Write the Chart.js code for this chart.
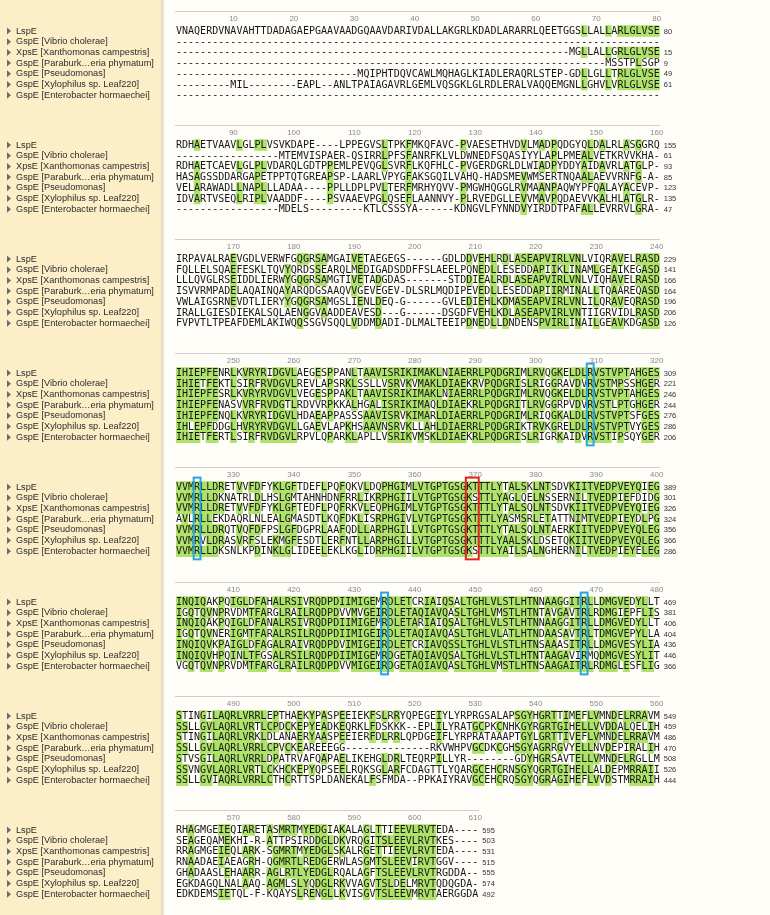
<!DOCTYPE html>
<html>
<head>
<meta charset="utf-8">
<script src="https://cdn.jsdelivr.net/npm/chart.js@4.4.1/dist/chart.umd.min.js"></script>
<style>
  html, body { margin: 0; padding: 0; }
  body {
    width: 770px; height: 915px; position: relative; overflow: hidden;
    background: linear-gradient(to right, #fcefc8 0, #fcefc8 161px, #e2d7b6 161px, #ebe5d5 163px, #fffdf8 165px, #fffdf8 100%);
  }
  canvas { position: absolute; left: 0; }
</style>
</head>
<body>
<script>
// first alignment column of each block
const blockStarts = [1, 81, 161, 241, 321, 401, 481, 561];

const seqNames = [
  'LspE',
  'GspE [Vibrio cholerae]',
  'XpsE [Xanthomonas campestris]',
  'GspE [Paraburk…eria phymatum]',
  'GspE [Pseudomonas]',
  'GspE [Xylophilus sp. Leaf220]',
  'GspE [Enterobacter hormaechei]'
];

const lspE = [
  'VNAQERDVNAVAHTTDADAGAEPGAAVAADGQAAVDARIVDALLAKGRLKDADLARARRLQEETGGSLLALLARLGLVSE',
  'RDHAETVAAVLGLPLVSVKDAPE----LPPEGVSLTPKFMKQFAVC-PVAESETHVDVLMADPQDGYQLDALRLASGGRQ',
  'IRPAVALRAEVGDLVERWFGQGRSAMGAIVETAEGEGS------GDLDDVEHLRDLASEAPVIRLVNLVIQRAVELRASD',
  'IHIEPFENRLKVRYRIDGVLAEGESPPANLTAAVISRIKIMAKLNIAERRLPQDGRIMLRVQGKELDLRVSTVPTAHGES',
  'VVMRLLDRETVVFDFYKLGFTDEFLPQFQKVLDQPHGIMLVTGPTGSGKTTTLYTALSKLNTSDVKIITVEDPVEYQIEG',
  'INQIQAKPQIGLDFAHALRSIVRQDPDIIMIGEMRDLETCRIAIQSALTGHLVLSTLHTNNAAGGITRLLDMGVEDYLLT',
  'STINGILAQRLVRRLEPTHAEKYPASPEEIEKFSLRRYQPEGEIYLYRPRGSALAPSGYHGRTTIMEFLVMNDELRRAVM',
  'RHAGMGEIEQIARETASMRTMYEDGIAKALAGLTTIEEVLRVTEDA----'
];
const vibrio = [
  '--------------------------------------------------------------------------------',
  '-----------------MTEMVISPAER-QSIRRLPFSFANRFKLVLDWNEDFSQASIYYLAPLPMEALVETKRVVKHA-',
  'FQLLELSQAEFESKLTQVYQRDSSEARQLMEDIGADSDDFFSLAEELPQNEDLLESEDDAPIIKLINAMLGEAIKEGASD',
  'IHIETFEKTLSIRFRVDGVLREVLAPSRKLSSLLVSRVKVMAKLDIAEKRVPQDGRISLRIGGRAVDVRVSTMPSSHGER',
  'VVMRLLDKNATRLDLHSLGMTAHNHDNFRRLIKRPHGIILVTGPTGSGKSTTLYAGLQELNSSERNILTVEDPIEFDIDG',
  'IGQTQVNPRVDMTFARGLRAILRQDPDVVMVGEIRDLETAQIAVQASLTGHLVMSTLHTNTAVGAVTRLRDMGIEPFLIS',
  'SSLLGVLAQRLVRTLCPDCKEPYEADKEQRKLFDSKKK--EPLILYRATGCPKCNHKGYRGRTGIHELLVVDDALQELIH',
  'SEAGEQAMEKHI-R-ATTPSIRDDGLDKVRQGITSLEEVLRVTKES----'
];
const xanthomonas = [
  '-----------------------------------------------------------------MGLLALLGRLGLVSE',
  'RDHAETCAEVLGLPLVDARQLGDTPPEMLPEVQGLSVRFLKQFHLC-PVGERDGRLDLWIADPYDDYAIDAVRLATGLP-',
  'LLLQVGLRSEIDDLIERWYGQGRSAMGTIVETADGDAS-------STDDIEALRDLASEAPVIRLVNLVIQHAVELRASD',
  'IHIEPFESRLKVRYRVDGVLVEGESPPAKLTAAVISRIKIMAKLNIAERRLPQDGRIMLRVQGKELDLRVSTVPTAHGES',
  'VVMRLLDRETVVFDFYKLGFTEDFLPQFRKVLEQPHGIMLVTGPTGSGKTTTLYTALSQLNTSDVKIITVEDPVEYQIEG',
  'INQIQAKPQIGLDFANALRSIVRQDPDIIMIGEMRDLETARIAIQSALTGHLVLSTLHTNNAAGGITRLLDMGVEDYLLT',
  'STINGILAQRLVRKLDLANAERYAASPEEIERFDLRRLQPDGEIFLYRPRATAAAPTGYLGRTTIVEFLVMNDELRRAVM',
  'RRAGMGEIEQLARK-SGMRTMYEDGLSKALRGETTIEEVLRVTEDA----'
];
const paraburkholderia = [
  '-----------------------------------------------------------------------MSSTPLSGP',
  'HASAGSSDDARGAPETPPTQTGREAPSP-LAARLVPYGFAKSGQILVAHQ-HADSMEVWMSERTNQAALAEVVRNFG-A-',
  'ISVVRMPADELAQAINQAYARQDGSAAQVVGEVEGEV-DLSRLMQDIPEVEDLLESEDDAPIIRMINALLTQAAREQASD',
  'IHIEPFENASVVRFRVDGTLRDVVRPKKALHGALISRIKIMAQLDIAEKRLPQDGRITLRVGGRPVDVRVSTLPTGHGER',
  'AVLRLLEKDAQRLNLEALGMASDTLKQFDKLISRPHGIVLVTGPTGSGKTTTLYASMSRLETATTNIMTVEDPIEYDLPG',
  'IGQTQVNERIGMTFARALRSILRQDPDIIMIGEIRDLETAQIAVQASLTGHLVLATLHTNDAASAVTRLTDMGVEPYLLA',
  'SSLLGVLAQRLVRRLCPVCKEAREEEGG--------------RKVWHPVGCDKCGHSGYAGRRGVYELLNVDEPIRALIH',
  'RNAADAEIAEAGRH-QGMRTLREDGERWLASGMTSLEEVIRVTGGV----'
];
const pseudomonas = [
  '------------------------------MQIPHTDQVCAWLMQHAGLKIADLERAQRLSTEP-GDLLGLLTRLGLVSE',
  'VELARAWADLLNAPLLLADAA----PPLLDPLPVLTERFMRHYQVV-PMGWHQGGLRVMAANPAQWYPFQALAYACEVP-',
  'VWLAIGSRNEVDTLIERYYGQGRSAMGSLIENLDEQ-G------GVLEDIEHLKDMASEAPVIRLVNLILQRAVEQRASD',
  'IHIEPFENQLKVRYRIDGVLHDAEAPPASSSAAVISRVKIMARLDIAERRLPQDGRIMLRIQGKALDLRVSTVPTSFGES',
  'VVMRLLDRQTVQFDFPSLGFDGPRLAAFQDLLARPHGILLVTGPTGSGKTTTLYTALSQLNTAERKIITVEDPVEYQLEG',
  'INQIQVKPAIGLDFAGALRAIVRQDPDVIMIGEIRDLETCRIAVQSSLTGHLVLSTLHTNSAAASITRLLDMGVESYLIA',
  'STVSGILAQRLVRRLDPATRVAFQAPAELIKEHGLDRLTEQRPILLYR--------GDYHGRSAVTELLVMNDELRGLLM',
  'GHADAASLEHAARR-AGLRTLYEDGLRQALAGFTSLEEVLRVTRGDDA--'
];
const xylophilus = [
  '---------MIL--------EAPL--ANLTPAIAGAVRLGEMLVQSGKLGLRDLERALVAQQEMGNLLGHVLVRLGLVSE',
  'IDVARTVSEQLRIPLVAADDF----PSVAAEVPGLQSEFLAANNVY-PLRVEDGLLEVVMAVPQDAEVVKALHLATGLR-',
  'IRALLGIESDIEKALSQLAENGGVAADDEAVESD---G------DSGDFVEHLKDLASEAPVIRLVNTIIGRVIDLRASD',
  'IHLEPFDDGLHVRYRVDGVLLGAEVLAPKHSAAVNSRVKLLAHLDIAERRLPQDGRIKTRVKGRELDLRVSTVPTVYGES',
  'VVMRVLDRASVRFSLEKMGFESDTLERFNTLLARPHGILLVTGPTGSGKTTTLYAALSKLDSETQKIITVEDPVEYQLEG',
  'INQIQVHPQINLTFGSALRSILRQDPDIIMIGEMRDGETAQIAVQSALTGHLVLSTLHTNTAAGAVIRMQDMGVESYLIT',
  'SSVNGVLAQRLVRTLCKHCKEPYQPSEELRQKSGLARFCDAGTTLYQARGCEHCRNSGYQGRTGIHELLALDEPMRRAII',
  'EGKDAGQLNALAAQ-AGMLSLYQDGLRKVVAGVTSLDELMRVTQDQGDA-'
];
const enterobacter = [
  '--------------------------------------------------------------------------------',
  '-----------------MDELS---------KTLCSSSYA------KDNGVLFYNNDVYIRDDTPAFALLEVRRVLGRA-',
  'FVPVTLTPEAFDEMLAKIWQQSSGVSQQLVDDMDADI-DLMALTEEIPDNEDLLDNDENSPVIRLINAILGEAVKDGASD',
  'IHIETFERTLSIRFRVDGVLRPVLQPARKLAPLLVSRIKVMSKLDIAEKRLPQDGRISLRIGRKAIDVRVSTIPSQYGER',
  'VVMRLLDKSNLKPDINKLGLIDEELEKLKGLIDRPHGIILVTGPTGSGKSTTLYAILSALNGHERNILTVEDPIEYELEG',
  'VGQTQVNPRVDMTFARGLRAILRQDPDVVMIGEIRDGETAQIAVQASLTGHLVMSTLHTNSAAGAITRLRDMGLESFLIG',
  'SSLLGVIAQRLVRRLCTHCRTTSPLDANEKALFSFMDA--PPKAIYRAVGCEHCRQSGYQGRAGIHEFLVVDSTMRRAIH',
  'EDKDEMSIETQL-F-KQAYSLRENGLLKVISGVTSLEEVMRVTAERGGDA'
];

// framed columns (blue) and the Walker B pair (red)
const boxedColumns = [309, 324, 435, 468];
const walkerColumns = [369, 370];

const sequences = [lspE, vibrio, xanthomonas, paraburkholderia, pseudomonas, xylophilus, enterobacter];

const COL_W = 6.048;
const AREA_LEFT = 175.9;
const PITCH = 114.1;
const CANVAS_H = 114;
const GREEN = '#aee26a';

Chart.defaults.font.family = '"Liberation Sans", Arial, sans-serif';

// a residue is shaded when at least 4 of the 7 rows share it in that column
function conservedMask(block) {
  const rows = sequences.map(s => s[block]);
  return rows.map(row => Array.from(row, (ch, i) => {
    if (ch === '-') return false;
    let n = 0;
    rows.forEach(other => { if (other[i] === ch) n++; });
    return n >= 4;
  }));
}

function endPosition(r, block) {
  let n = 0;
  for (let b = 0; b <= block; b++) n += sequences[r][b].replace(/-/g, '').length;
  return n;
}

const alignmentPlugin = {
  id: 'alignment',
  afterDatasetsDraw(chart, args, opts) {
    const {ctx, chartArea, scales: {x, y}} = chart;
    const k = opts.block;
    const start = blockStarts[k];
    const rows = sequences.map(s => s[k]);
    const half = (x.getPixelForValue(1) - x.getPixelForValue(0)) / 2;
    ctx.save();

    // residues and end positions
    rows.forEach((row, r) => {
      const py = y.getPixelForValue(r + 0.5) + 0.5;
      ctx.font = '10px "DejaVu Sans Mono", monospace';
      ctx.textAlign = 'center';
      ctx.textBaseline = 'middle';
      ctx.fillStyle = '#161616';
      for (let i = 0; i < row.length; i++) {
        ctx.fillText(row[i], x.getPixelForValue(i), py);
      }
      if (/[A-Z]/.test(row)) {
        ctx.font = '7.5px "Liberation Sans", Arial, sans-serif';
        ctx.textAlign = 'left';
        ctx.fillStyle = '#333';
        ctx.fillText(String(endPosition(r, k)), chartArea.right + 4, py);
      }
    });

    // frames round selected columns
    const frame = (cols, color) => {
      const idx = cols.map(c => c - start).filter(i => i >= 0 && i < rows[0].length);
      if (!idx.length) return;
      const x1 = x.getPixelForValue(Math.min(...idx)) - half - 0.4;
      const x2 = x.getPixelForValue(Math.max(...idx)) + half + 0.4;
      const y1 = y.getPixelForValue(-0.38);
      const y2 = y.getPixelForValue(7.26);
      ctx.strokeStyle = color;
      ctx.lineWidth = 2;
      ctx.strokeRect(x1, y1, x2 - x1, y2 - y1);
    };
    boxedColumns.forEach(c => frame([c], '#27a6df'));
    frame(walkerColumns, '#e2231a');

    // expander triangles in front of the names
    ctx.fillStyle = '#6b6b6b';
    rows.forEach((row, r) => {
      const py = y.getPixelForValue(r + 0.5);
      ctx.beginPath();
      ctx.moveTo(7, py - 3.5);
      ctx.lineTo(11, py);
      ctx.lineTo(7, py + 3.5);
      ctx.closePath();
      ctx.fill();
    });
    ctx.restore();
  }
};

blockStarts.forEach((start, k) => {
  const len = lspE[k].length;
  const cols = Array.from({length: len}, (_, i) => String(start + i));
  const mask = conservedMask(k);

  const canvas = document.createElement('canvas');
  canvas.width = 770;
  canvas.height = CANVAS_H;
  canvas.style.top = Math.round(k * PITCH) + 'px';
  document.body.appendChild(canvas);

  new Chart(canvas, {
    type: 'bar',
    data: {
      labels: cols,
      datasets: sequences.map((s, r) => ({
        label: seqNames[r],
        data: mask[r].map(on => on ? [r, r + 1] : null),
        backgroundColor: GREEN,
        borderWidth: 0,
        grouped: false,
        barPercentage: 1,
        categoryPercentage: 1
      }))
    },
    options: {
      responsive: false,
      animation: false,
      devicePixelRatio: 1,
      events: [],
      layout: {
        padding: { top: 11, left: 16, right: 770 - AREA_LEFT - len * COL_W, bottom: CANVAS_H - 11 - 92.76 }
      },
      plugins: {
        legend: { display: false },
        tooltip: { enabled: false },
        alignment: { block: k }
      },
      scales: {
        x: {
          type: 'category',
          position: 'top',
          offset: true,
          grid: { display: false },
          border: { display: true, color: '#cfcfcf', width: 1 },
          afterFit: s => { s.height = 0; },
          ticks: {
            autoSkip: false,
            maxRotation: 0,
            minRotation: 0,
            mirror: true,
            padding: 2.5,
            color: '#8a8a8a',
            font: { size: 8 },
            callback: (v, i) => (start + i) % 10 === 0 ? String(start + i) : ''
          }
        },
        y: {
          type: 'linear',
          reverse: true,
          min: -1.37,
          max: 7.3,
          grid: { display: false },
          border: { display: false },
          afterBuildTicks: s => { s.ticks = seqNames.map((n, i) => ({ value: i + 0.5 })); },
          afterFit: s => { s.width = AREA_LEFT - 16; },
          ticks: {
            autoSkip: false,
            crossAlign: 'far',
            color: '#2b2b2b',
            font: { size: 9.2 },
            callback: v => seqNames[Math.round(v - 0.5)]
          }
        }
      }
    },
    plugins: [alignmentPlugin]
  });
});
</script>
</body>
</html>
